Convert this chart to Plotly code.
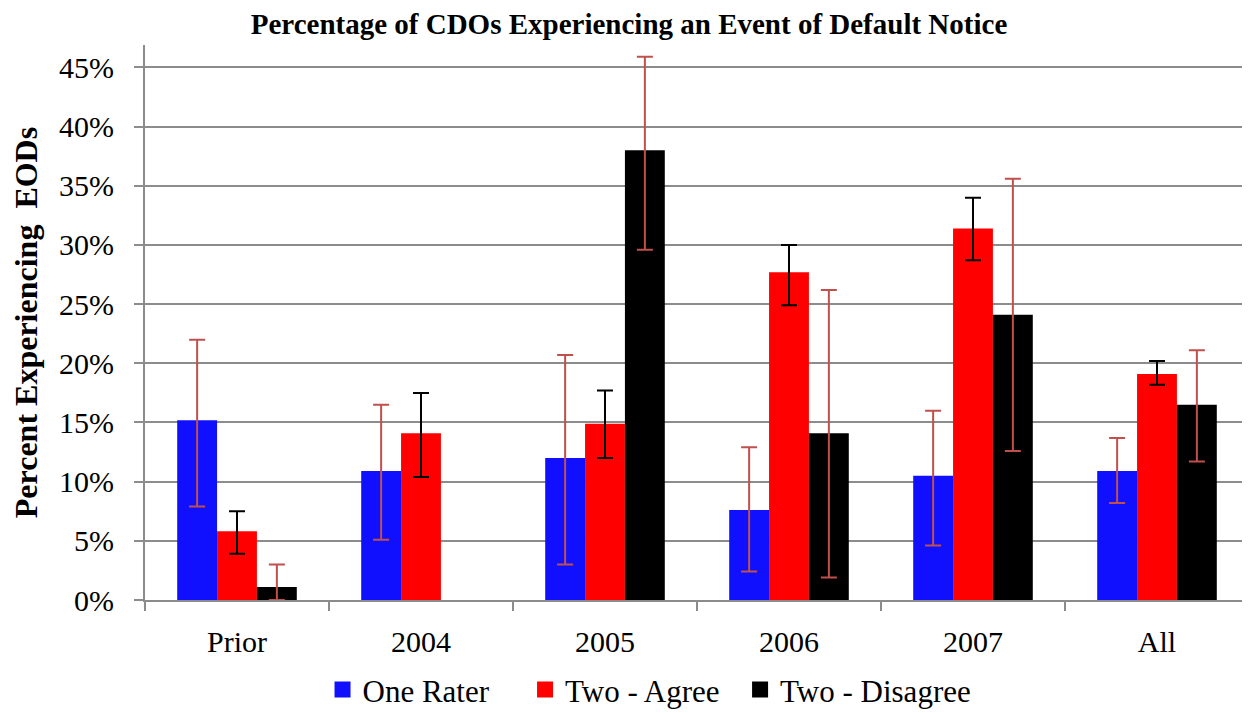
import plotly.graph_objects as go

categories = ["Prior", "2004", "2005", "2006", "2007", "All"]

one_rater = [0.152, 0.109, 0.120, 0.076, 0.105, 0.109]
one_rater_hi = [0.220, 0.165, 0.207, 0.129, 0.160, 0.137]
one_rater_lo = [0.079, 0.051, 0.030, 0.024, 0.046, 0.082]

two_agree = [0.058, 0.141, 0.149, 0.277, 0.314, 0.191]
two_agree_hi = [0.075, 0.175, 0.177, 0.300, 0.340, 0.202]
two_agree_lo = [0.039, 0.104, 0.120, 0.249, 0.287, 0.182]

two_disagree = [0.011, None, 0.380, 0.141, 0.241, 0.165]
two_disagree_hi = [0.030, None, 0.459, 0.262, 0.356, 0.211]
two_disagree_lo = [0.0, None, 0.296, 0.019, 0.126, 0.117]

FONT = "'Liberation Serif', 'Times New Roman', serif"
GRID = "#8c8c8c"
NB = "\u00a0"  # padding after legend labels
series = [
    ("One Rater", one_rater, one_rater_hi, one_rater_lo, "#1010ff", "#c0504d", NB * 4),
    ("Two - Agree", two_agree, two_agree_hi, two_agree_lo, "#ff0000", "#000000", NB * 2),
    ("Two - Disagree", two_disagree, two_disagree_hi, two_disagree_lo, "#000000", "#c0504d", ""),
]


def err(vals, hi, lo, color):
    plus = [None if v is None else h - v for v, h in zip(vals, hi)]
    minus = [None if v is None else v - l for v, l in zip(vals, lo)]
    return dict(type="data", symmetric=False, array=plus, arrayminus=minus,
                color=color, thickness=2, width=8)


fig = go.Figure()
for name, vals, hi, lo, color, ecolor, pad in series:
    fig.add_trace(go.Bar(x=categories, y=vals, name=name, marker_color=color,
                         marker_line_width=0, showlegend=False, legendgroup=name,
                         error_y=err(vals, hi, lo, ecolor)))
# legend entries with bigger square swatches
for name, vals, hi, lo, color, ecolor, pad in series:
    fig.add_trace(go.Scatter(x=[None], y=[None], mode="markers", name=name + pad,
                             legendgroup=name,
                             marker=dict(symbol="square", size=19, color=color)))

# page body has an 8px margin, so the figure is shrunk by that much
fig.update_layout(
    width=1242, height=705,
    barmode="group", bargap=0.35, bargroupgap=0,
    paper_bgcolor="white", plot_bgcolor="white",
    font=dict(family=FONT, color="#000000", size=30),
    margin=dict(l=137, r=1, t=37, b=113, autoexpand=False),
    title=dict(text="<b>Percentage of CDOs Experiencing an Event of Default Notice</b>",
               font=dict(size=29), x=0.5, xanchor="center", y=0.978, yanchor="middle"),
    legend=dict(orientation="h", x=0.457, xanchor="center", y=-0.162, yanchor="middle",
                font=dict(size=31), itemwidth=30, traceorder="normal"),
    xaxis=dict(showline=True, linecolor=GRID, linewidth=2, ticks="outside",
               tickson="boundaries", ticklen=9, tickwidth=2, tickcolor=GRID,
               ticklabelstandoff=14, tickfont=dict(size=30)),
    yaxis=dict(range=[0, 0.469], dtick=0.05, tickformat=".0%", showgrid=True,
               gridcolor=GRID, gridwidth=2, showline=True, linecolor=GRID, linewidth=2,
               ticks="outside", ticklen=9, tickwidth=2, tickcolor=GRID, zeroline=False,
               tickfont=dict(size=30), ticklabelstandoff=14,
               title=dict(text="<b>Percent Experiencing  EODs</b>", font=dict(size=32),
                          standoff=16)),
)

fig.write_html("out.html")
